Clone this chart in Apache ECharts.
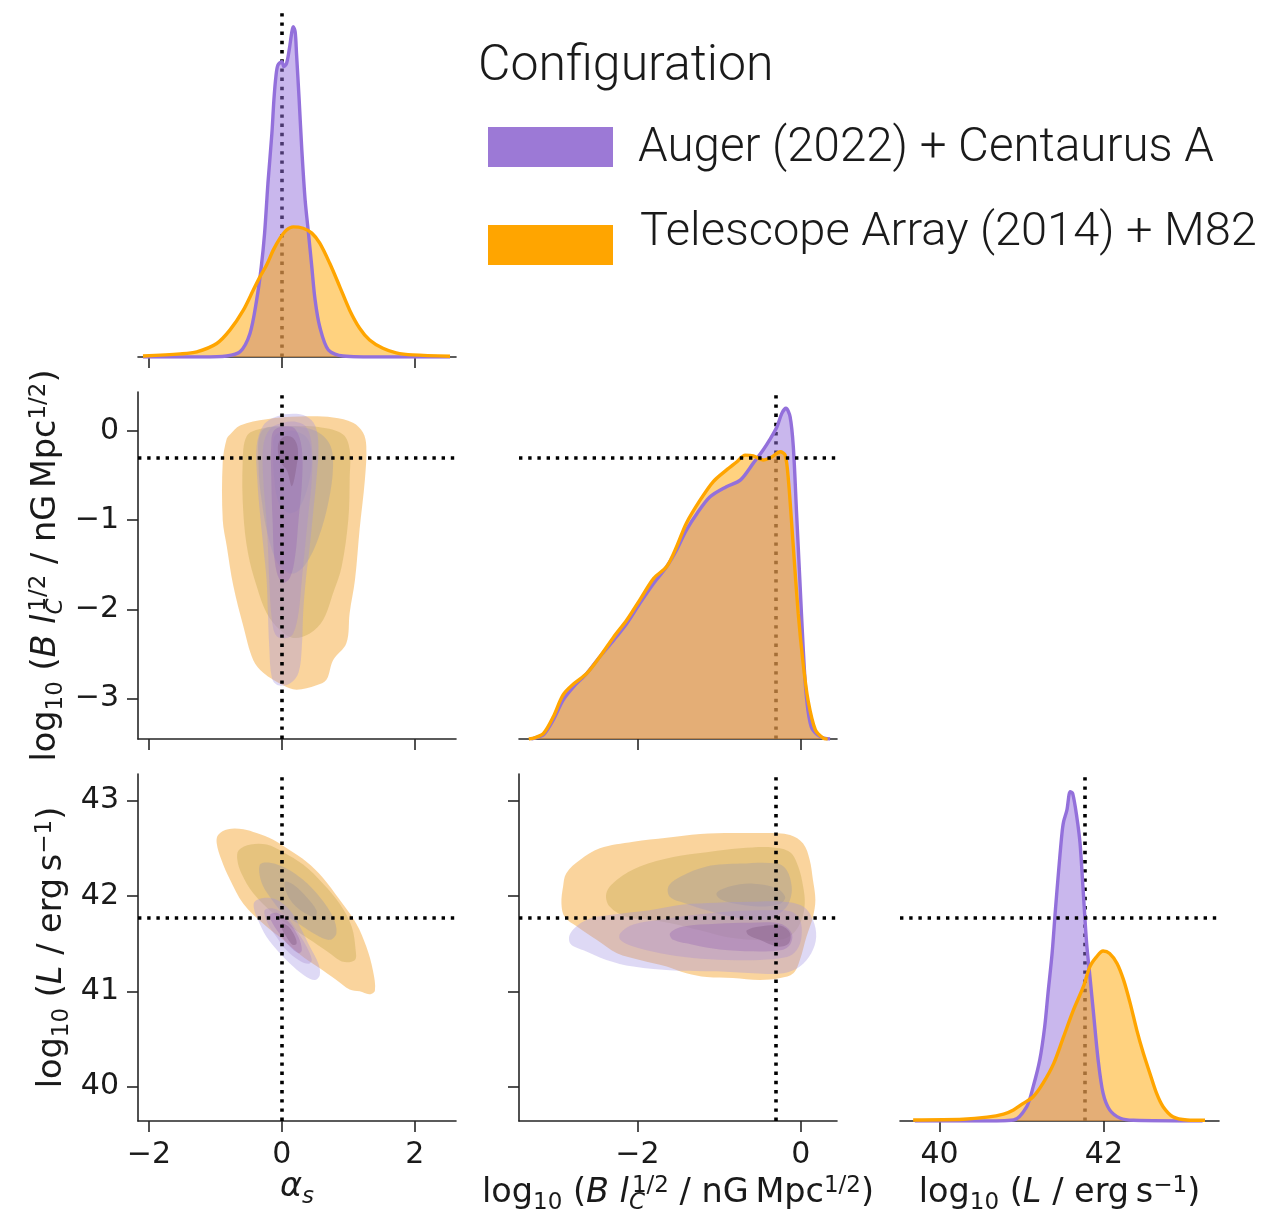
<!DOCTYPE html>
<html><head><meta charset="utf-8">
<script src="https://cdn.jsdelivr.net/npm/echarts@6/dist/echarts.min.js"></script>
<style>html,body{margin:0;padding:0;background:#fff;}#c{width:1267px;height:1222px;}</style>
</head><body><div id="c"></div>
<script>
// ---------------- DATA ----------------
const seriesNames = ['Auger (2022) + Centaurus A', 'Telescope Array (2014) + M82'];
const alphaTicks = [-2, 0, 2];
const logBTicksX = [-2, 0];
const logBTicksY = [-3, -2, -1, 0];
const logLTicksX = [40, 42];
const logLTicksY = [40, 41, 42, 43];
const truthAlpha = 0;
const truthLogB = -0.3;
const truthLogL = 41.77;

// 1D marginal densities [x, density(normalised)]
const densAlphaAuger = [[-2.09,0],[-1.2,0],[-0.83,0.003],[-0.63,0.015],[-0.48,0.068],[-0.38,0.164],[-0.31,0.26],[-0.26,0.357],[-0.21,0.50],[-0.15,0.645],[-0.12,0.741],[-0.09,0.808],[-0.06,0.841],[0.0,0.851],[0.03,0.837],[0.07,0.846],[0.11,0.885],[0.15,0.937],[0.17,0.952],[0.20,0.937],[0.22,0.875],[0.26,0.741],[0.30,0.597],[0.35,0.452],[0.40,0.357],[0.45,0.26],[0.50,0.164],[0.57,0.087],[0.70,0.02],[0.92,0.003],[1.5,0],[2.53,0]];
const densAlphaTA = [[-2.09,0.003],[-1.53,0.009],[-1.28,0.015],[-0.98,0.039],[-0.78,0.078],[-0.58,0.135],[-0.43,0.193],[-0.33,0.231],[-0.23,0.265],[-0.13,0.308],[-0.03,0.342],[0.07,0.366],[0.17,0.375],[0.32,0.371],[0.45,0.357],[0.57,0.328],[0.72,0.27],[0.87,0.203],[1.02,0.135],[1.17,0.083],[1.32,0.049],[1.52,0.025],[1.72,0.012],[1.97,0.006],[2.53,0.002]];
const densLogBAuger = [[-3.3,0],[-3.27,0.002],[-3.15,0.012],[-3.03,0.055],[-2.91,0.112],[-2.78,0.151],[-2.62,0.189],[-2.46,0.237],[-2.29,0.285],[-2.13,0.333],[-1.97,0.391],[-1.80,0.449],[-1.64,0.497],[-1.52,0.545],[-1.40,0.602],[-1.27,0.65],[-1.11,0.698],[-0.91,0.727],[-0.74,0.746],[-0.58,0.795],[-0.46,0.833],[-0.38,0.862],[-0.29,0.90],[-0.23,0.939],[-0.18,0.953],[-0.13,0.929],[-0.09,0.842],[-0.05,0.65],[-0.01,0.458],[0.03,0.266],[0.07,0.122],[0.13,0.035],[0.24,0.007],[0.36,0.0]];
const densLogBTA = [[-3.33,0],[-3.25,0.004],[-3.15,0.016],[-3.03,0.064],[-2.91,0.127],[-2.78,0.159],[-2.62,0.189],[-2.46,0.237],[-2.29,0.294],[-2.13,0.343],[-1.97,0.401],[-1.80,0.463],[-1.64,0.497],[-1.52,0.554],[-1.40,0.622],[-1.23,0.689],[-1.07,0.742],[-0.91,0.775],[-0.78,0.799],[-0.68,0.818],[-0.58,0.816],[-0.46,0.804],[-0.36,0.812],[-0.25,0.828],[-0.19,0.818],[-0.15,0.746],[-0.09,0.554],[-0.03,0.362],[0.03,0.218],[0.09,0.112],[0.18,0.026],[0.28,0.002],[0.33,0]];
const densLogLAuger = [[39.7,0],[40.5,0],[40.90,0.003],[41.06,0.041],[41.14,0.099],[41.22,0.176],[41.28,0.272],[41.32,0.368],[41.37,0.483],[41.41,0.608],[41.45,0.723],[41.49,0.829],[41.51,0.863],[41.55,0.896],[41.59,0.949],[41.62,0.944],[41.67,0.877],[41.71,0.80],[41.75,0.656],[41.79,0.512],[41.83,0.416],[41.87,0.32],[41.93,0.176],[41.99,0.08],[42.07,0.032],[42.20,0.008],[42.36,0.002],[43.2,0]];
const densLogLTA = [[39.68,0.003],[40.29,0.005],[40.58,0.011],[40.78,0.02],[40.90,0.032],[41.02,0.051],[41.14,0.07],[41.26,0.109],[41.39,0.166],[41.51,0.243],[41.63,0.32],[41.75,0.387],[41.83,0.445],[41.91,0.473],[41.99,0.49],[42.07,0.483],[42.16,0.454],[42.24,0.406],[42.32,0.339],[42.40,0.262],[42.48,0.195],[42.56,0.137],[42.64,0.08],[42.72,0.041],[42.84,0.012],[43.01,0.003],[43.23,0.002]];

// 2D KDE contour levels (outer -> inner), points in data units
const kdeAlphaLogB_TA = [
  [[-0.78,-0.04],[-0.63,0.06],[-0.23,0.13],[0.27,0.16],[0.77,0.15],[1.07,0.09],[1.22,-0.02],[1.27,-0.17],[1.25,-0.54],[1.17,-1.10],[1.10,-1.67],[1.02,-2.04],[0.97,-2.38],[0.77,-2.57],[0.67,-2.79],[0.52,-2.85],[0.22,-2.90],[0.02,-2.85],[-0.28,-2.71],[-0.43,-2.57],[-0.58,-2.19],[-0.73,-1.74],[-0.83,-1.29],[-0.89,-1.0],[-0.89,-0.35],[-0.83,-0.09]],
  [[-0.53,-0.06],[-0.33,0.02],[0.07,0.05],[0.57,0.04],[0.92,-0.04],[1.02,-0.21],[1.02,-0.54],[1.0,-0.99],[0.90,-1.52],[0.77,-1.82],[0.62,-2.12],[0.42,-2.27],[0.17,-2.32],[-0.03,-2.23],[-0.23,-2.04],[-0.38,-1.74],[-0.51,-1.37],[-0.58,-0.92],[-0.59,-0.36]],
  [[-0.30,0.0],[0.10,0.05],[0.50,0.0],[0.72,-0.15],[0.77,-0.40],[0.70,-0.80],[0.55,-1.20],[0.35,-1.50],[0.15,-1.60],[-0.05,-1.50],[-0.20,-1.20],[-0.30,-0.80],[-0.35,-0.40]],
  [[-0.10,-0.05],[0.15,0.0],[0.38,-0.08],[0.45,-0.30],[0.40,-0.60],[0.25,-0.88],[0.10,-0.92],[-0.05,-0.80],[-0.12,-0.50],[-0.13,-0.20]]
];
const kdeAlphaLogB_Auger = [
  [[-0.28,0.06],[-0.08,0.16],[0.17,0.19],[0.37,0.16],[0.50,0.06],[0.55,-0.17],[0.52,-0.54],[0.47,-0.92],[0.42,-1.29],[0.36,-1.67],[0.32,-2.04],[0.30,-2.42],[0.25,-2.71],[0.12,-2.83],[-0.06,-2.85],[-0.15,-2.77],[-0.19,-2.42],[-0.21,-2.04],[-0.23,-1.67],[-0.28,-1.29],[-0.33,-0.92],[-0.37,-0.54],[-0.38,-0.17]],
  [[-0.18,0.02],[0.02,0.09],[0.22,0.10],[0.37,0.04],[0.45,-0.17],[0.45,-0.54],[0.40,-0.92],[0.35,-1.29],[0.30,-1.67],[0.25,-2.04],[0.17,-2.27],[0.07,-2.32],[-0.08,-2.30],[-0.15,-2.12],[-0.19,-1.67],[-0.21,-1.29],[-0.24,-0.92],[-0.28,-0.54],[-0.28,-0.17]],
  [[-0.12,0.0],[0.05,0.05],[0.20,0.02],[0.30,-0.20],[0.30,-0.60],[0.25,-1.00],[0.20,-1.40],[0.12,-1.65],[0.0,-1.70],[-0.10,-1.50],[-0.14,-1.00],[-0.16,-0.50],[-0.16,-0.15]],
  [[-0.04,-0.12],[0.05,-0.06],[0.17,-0.08],[0.24,-0.20],[0.22,-0.40],[0.15,-0.62],[0.08,-0.45],[-0.02,-0.35],[-0.06,-0.22]]
];
const kdeAlphaLogL_TA = [
  [[-0.96,42.64],[-0.81,42.70],[-0.58,42.70],[-0.38,42.66],[-0.13,42.59],[0.12,42.48],[0.37,42.36],[0.62,42.19],[0.87,41.96],[1.12,41.71],[1.27,41.47],[1.37,41.22],[1.40,41.01],[1.32,40.97],[1.17,41.00],[1.02,41.02],[0.82,41.12],[0.62,41.22],[0.32,41.36],[0.02,41.54],[-0.28,41.71],[-0.58,41.92],[-0.78,42.17],[-0.91,42.38],[-0.98,42.55]],
  [[-0.65,42.48],[-0.47,42.54],[-0.23,42.54],[0.02,42.46],[0.32,42.33],[0.62,42.13],[0.87,41.92],[1.05,41.68],[1.11,41.43],[1.10,41.33],[0.92,41.31],[0.72,41.40],[0.47,41.52],[0.17,41.66],[-0.13,41.82],[-0.43,42.03],[-0.61,42.24],[-0.67,42.38]],
  [[-0.33,42.33],[-0.18,42.35],[0.07,42.29],[0.32,42.17],[0.57,41.99],[0.77,41.78],[0.82,41.61],[0.72,41.54],[0.52,41.59],[0.27,41.70],[0.02,41.82],[-0.18,41.99],[-0.31,42.15]],
  [[0.05,42.15],[0.17,42.12],[0.37,41.99],[0.52,41.85],[0.50,41.78],[0.35,41.82],[0.17,41.92],[0.06,42.05]]
];
const kdeAlphaLogL_Auger = [
  [[-0.41,41.94],[-0.28,41.98],[-0.08,41.96],[0.12,41.85],[0.27,41.68],[0.42,41.47],[0.55,41.29],[0.57,41.17],[0.50,41.12],[0.37,41.15],[0.17,41.26],[-0.03,41.40],[-0.23,41.57],[-0.36,41.75],[-0.42,41.87]],
  [[-0.26,41.85],[-0.13,41.87],[0.05,41.80],[0.22,41.64],[0.37,41.47],[0.45,41.33],[0.40,41.29],[0.25,41.33],[0.07,41.43],[-0.08,41.57],[-0.21,41.71]],
  [[-0.18,41.80],[-0.06,41.82],[0.10,41.73],[0.25,41.57],[0.30,41.43],[0.25,41.40],[0.12,41.47],[0.0,41.57],[-0.13,41.70]],
  [[0.0,41.71],[0.10,41.68],[0.20,41.57],[0.22,41.50],[0.16,41.49],[0.07,41.57],[0.01,41.64]]
];
const kdeLogBLogL_TA = [
  [[-2.87,42.24],[-2.70,42.38],[-2.46,42.50],[-2.05,42.57],[-1.64,42.61],[-1.23,42.65],[-0.83,42.66],[-0.42,42.66],[-0.13,42.64],[0.03,42.55],[0.11,42.38],[0.15,42.17],[0.18,41.96],[0.15,41.78],[0.07,41.57],[-0.01,41.33],[-0.09,41.19],[-0.25,41.14],[-0.50,41.12],[-0.83,41.14],[-1.15,41.15],[-1.40,41.19],[-1.64,41.26],[-1.97,41.33],[-2.25,41.40],[-2.50,41.54],[-2.74,41.68],[-2.89,41.78],[-2.93,41.92],[-2.91,42.10]],
  [[-2.38,42.03],[-2.25,42.17],[-1.97,42.31],[-1.56,42.41],[-1.15,42.46],[-0.74,42.50],[-0.34,42.51],[-0.13,42.46],[-0.03,42.31],[0.03,42.10],[0.05,41.92],[0.01,41.75],[-0.09,41.61],[-0.25,41.54],[-0.58,41.54],[-0.91,41.57],[-1.23,41.64],[-1.56,41.71],[-1.85,41.75],[-2.13,41.78],[-2.34,41.89]],
  [[-1.62,42.10],[-1.48,42.20],[-1.15,42.31],[-0.74,42.34],[-0.29,42.34],[-0.17,42.27],[-0.11,42.10],[-0.13,41.96],[-0.21,41.85],[-0.42,41.75],[-0.83,41.78],[-1.15,41.85],[-1.40,41.92],[-1.60,41.99]],
  [[-1.03,42.03],[-0.87,42.10],[-0.58,42.13],[-0.29,42.08],[-0.19,41.99],[-0.25,41.92],[-0.50,41.89],[-0.74,41.91],[-0.97,41.96]]
];
const kdeLogBLogL_Auger = [
  [[-2.82,41.61],[-2.62,41.75],[-2.34,41.80],[-1.85,41.85],[-1.44,41.91],[-1.03,41.93],[-0.62,41.94],[-0.21,41.94],[0.03,41.89],[0.15,41.75],[0.19,41.57],[0.13,41.40],[-0.01,41.26],[-0.21,41.19],[-0.58,41.19],[-1.03,41.21],[-1.56,41.22],[-2.05,41.26],[-2.38,41.33],[-2.66,41.43],[-2.82,41.50]],
  [[-2.21,41.61],[-2.05,41.70],[-1.72,41.75],[-1.32,41.80],[-0.83,41.84],[-0.42,41.85],[-0.13,41.84],[-0.01,41.75],[0.01,41.57],[-0.05,41.43],[-0.17,41.36],[-0.50,41.33],[-0.91,41.33],[-1.32,41.35],[-1.72,41.40],[-2.05,41.47],[-2.21,41.54]],
  [[-1.60,41.61],[-1.44,41.68],[-1.03,41.71],[-0.62,41.72],[-0.25,41.71],[-0.11,41.61],[-0.13,41.49],[-0.25,41.43],[-0.58,41.42],[-0.99,41.44],[-1.32,41.49],[-1.56,41.54]],
  [[-0.66,41.64],[-0.50,41.68],[-0.25,41.69],[-0.13,41.61],[-0.15,41.50],[-0.29,41.47],[-0.50,41.54],[-0.64,41.59]]
];

// ---------------- STYLE ----------------
const PURPLE = '#9370DB', ORANGE = '#FFA500';
const orangeLevels = ['rgba(245,170,60,0.5)','rgba(200,170,80,0.4)','rgba(170,160,160,0.45)','rgba(160,150,150,0.4)'];
const purpleLevels = ['rgba(160,145,225,0.35)','rgba(170,140,210,0.35)','rgba(150,100,180,0.35)','rgba(130,90,130,0.4)'];
const INK = '#262626';
const fmt = v => (v < 0 ? '\u2212' + Math.abs(v) : String(v));
const tickFont = {fontFamily:'DejaVu Sans', fontSize:30, color:'#1a1a1a'};

const NF = 33.5, SF = 23;
const base = {fontFamily:'DejaVu Sans', color:'#1a1a1a', align:'left'};
const nameRich = {
  r:Object.assign({fontSize:NF, lineHeight:44}, base),
  i:Object.assign({fontStyle:'italic', fontSize:NF, lineHeight:44}, base),
  sb:Object.assign({fontSize:SF, lineHeight:SF, verticalAlign:'bottom'}, base),
  sbi:Object.assign({fontStyle:'italic', fontSize:SF, lineHeight:SF, verticalAlign:'bottom'}, base),
  sbc:Object.assign({fontStyle:'italic', fontSize:SF, lineHeight:SF, verticalAlign:'bottom', width:3}, base),
  sp:Object.assign({fontSize:SF, lineHeight:SF, padding:[4,0,0,0], verticalAlign:'top'}, base)
};
const nameAlpha = '{i|\u03b1}{sbi|s}';
const nameLogB = '{r|log}{sb|10}{r| (}{i|B}{r| }{i|l}{sbc|C}{sp|1/2}{r| / nG\u2009Mpc}{sp|1/2}{r|)}';
const nameLogL = '{r|log}{sb|10}{r| (}{i|L}{r| / erg\u2009s}{sp|\u22121}{r|)}';

function axis(grid, min, max, ticks, showLabels, extra) {
  return Object.assign({
    type:'value', gridIndex:grid, min:min, max:max,
    axisLine:{show:true, onZero:false, lineStyle:{color:INK, width:1.6}},
    axisTick:{show:true, inside:false, length:11, customValues:ticks, lineStyle:{color:INK, width:1.6}},
    axisLabel:Object.assign({show:showLabels, customValues:ticks, formatter:fmt, margin:19}, tickFont),
    splitLine:{show:false},
    nameMoveOverlap:false
  }, extra || {});
}
function hidden(grid, min, max) {
  return {type:'value', gridIndex:grid, min:min, max:max, show:false, splitLine:{show:false}};
}
const ALPHA = [-2.165, 2.62], LOGB = [-3.45, 0.445], LOGBY = [-3.453, 0.435], LOGLX = [39.52, 43.40], LOGLY = [39.64, 43.28];

const xAxes = [
  axis(0, ALPHA[0], ALPHA[1], alphaTicks, false),
  axis(1, ALPHA[0], ALPHA[1], alphaTicks, false),
  axis(2, LOGB[0], LOGB[1], logBTicksX, false),
  axis(3, ALPHA[0], ALPHA[1], alphaTicks, true, {name:nameAlpha, nameLocation:'middle', nameGap:44, nameTextStyle:{rich:nameRich}}),
  axis(4, LOGB[0], LOGB[1], logBTicksX, true, {name:nameLogB, nameLocation:'middle', nameGap:50, nameTextStyle:{rich:nameRich}}),
  axis(5, LOGLX[0], LOGLX[1], logLTicksX, true, {name:nameLogL, nameLocation:'middle', nameGap:50, nameTextStyle:{rich:nameRich}})
];
const yAxes = [
  hidden(0, 0, 1),
  axis(1, LOGBY[0], LOGBY[1], logBTicksY, true, {name:nameLogB, nameLocation:'middle', nameGap:70, nameTextStyle:{rich:nameRich}}),
  hidden(2, 0, 1),
  axis(3, LOGLY[0], LOGLY[1], logLTicksY, true, {name:nameLogL, nameLocation:'middle', nameGap:64, nameTextStyle:{rich:nameRich}}),
  axis(4, LOGLY[0], LOGLY[1], logLTicksY, false),
  hidden(5, 0, 1),
  hidden(2, LOGBY[0], LOGBY[1]),
  hidden(5, LOGLY[0], LOGLY[1])
];

const grids = [
  {left:138, top:10, width:318, height:347},
  {left:138, top:392, width:318, height:347},
  {left:519, top:392, width:318, height:347},
  {left:138, top:774, width:318, height:347},
  {left:519, top:774, width:318, height:347},
  {left:900, top:774, width:319, height:347}
].map(g => Object.assign({containLabel:false, outerBoundsMode:'none'}, g));

const series = [];
function truthLine(xi, yi, marks, z) {
  series.push({type:'line', xAxisIndex:xi, yAxisIndex:yi, data:[], z:z, silent:true,
    markLine:{silent:true, z:z, symbol:['none','none'], animation:false, label:{show:false},
      lineStyle:{color:'#000', width:3.6, type:[3.4,5.8]}, emphasis:{disabled:true}, data:marks}});
}
function density(xi, yi, data, color, name) {
  series.push({type:'line', name:name, xAxisIndex:xi, yAxisIndex:yi, data:data, z:2,
    smooth:0.3, showSymbol:false, symbol:'none', silent:true,
    lineStyle:{color:color, width:3.4}, areaStyle:{color:color, opacity:0.5, origin:'start'}});
}
function contours(xi, yi, levels, colors) {
  levels.forEach((poly, k) => {
    series.push({type:'custom', xAxisIndex:xi, yAxisIndex:yi, coordinateSystem:'cartesian2d',
      data:poly, silent:true, z:2, clip:true,
      renderItem:function(params, api){
        if (params.dataIndex !== 0) return;
        const pts = poly.map(p => api.coord(p));
        return {type:'polygon', shape:{points:pts, smooth:0.35}, style:{fill:colors[k]}};
      }});
  });
}

// Row 1: alpha marginal
truthLine(0, 0, [{xAxis:truthAlpha}], 1);
density(0, 0, densAlphaAuger, PURPLE, seriesNames[0]);
density(0, 0, densAlphaTA, ORANGE, seriesNames[1]);
// Row 2 col 1
contours(1, 1, kdeAlphaLogB_TA, orangeLevels);
contours(1, 1, kdeAlphaLogB_Auger, purpleLevels);
truthLine(1, 1, [{xAxis:truthAlpha},{yAxis:truthLogB}], 10);
// Row 2 col 2: logB marginal
truthLine(2, 2, [{xAxis:truthLogB}], 1);
density(2, 2, densLogBAuger, PURPLE, seriesNames[0]);
density(2, 2, densLogBTA, ORANGE, seriesNames[1]);
truthLine(2, 6, [{yAxis:truthLogB}], 10);
// Row 3 col 1
contours(3, 3, kdeAlphaLogL_TA, orangeLevels);
contours(3, 3, kdeAlphaLogL_Auger, purpleLevels);
truthLine(3, 3, [{xAxis:truthAlpha},{yAxis:truthLogL}], 10);
// Row 3 col 2
contours(4, 4, kdeLogBLogL_TA, orangeLevels);
contours(4, 4, kdeLogBLogL_Auger, purpleLevels);
truthLine(4, 4, [{xAxis:truthLogB},{yAxis:truthLogL}], 10);
// Row 3 col 3: logL marginal
truthLine(5, 5, [{xAxis:truthLogL}], 1);
density(5, 5, densLogLAuger, PURPLE, seriesNames[0]);
density(5, 5, densLogLTA, ORANGE, seriesNames[1]);
truthLine(5, 7, [{yAxis:truthLogL}], 10);

const legendFont = {fontFamily:'Roboto', fontWeight:300, fill:'#1a1a1a'};
const graphic = [
  {type:'text', x:478, y:67, style:Object.assign({text:'Configuration', fontSize:50, textAlign:'left', textVerticalAlign:'middle', verticalAlign:'middle'}, legendFont)},
  {type:'rect', shape:{x:488, y:127, width:125, height:40}, style:{fill:'#9C79D6'}},
  {type:'rect', shape:{x:488, y:225, width:125, height:40}, style:{fill:ORANGE}},
  {type:'text', x:638, y:149, style:Object.assign({text:seriesNames[0], fontSize:47.5, textAlign:'left', textVerticalAlign:'middle', verticalAlign:'middle'}, legendFont)},
  {type:'text', x:640, y:233, style:Object.assign({text:seriesNames[1], fontSize:47, textAlign:'left', textVerticalAlign:'middle', verticalAlign:'middle'}, legendFont)}
];

const chart = echarts.init(document.getElementById('c'), null, {renderer:'canvas'});
chart.setOption({
  animation:false,
  backgroundColor:'#ffffff',
  grid:grids, xAxis:xAxes, yAxis:yAxes, series:series, graphic:graphic
});
</script></body></html>
